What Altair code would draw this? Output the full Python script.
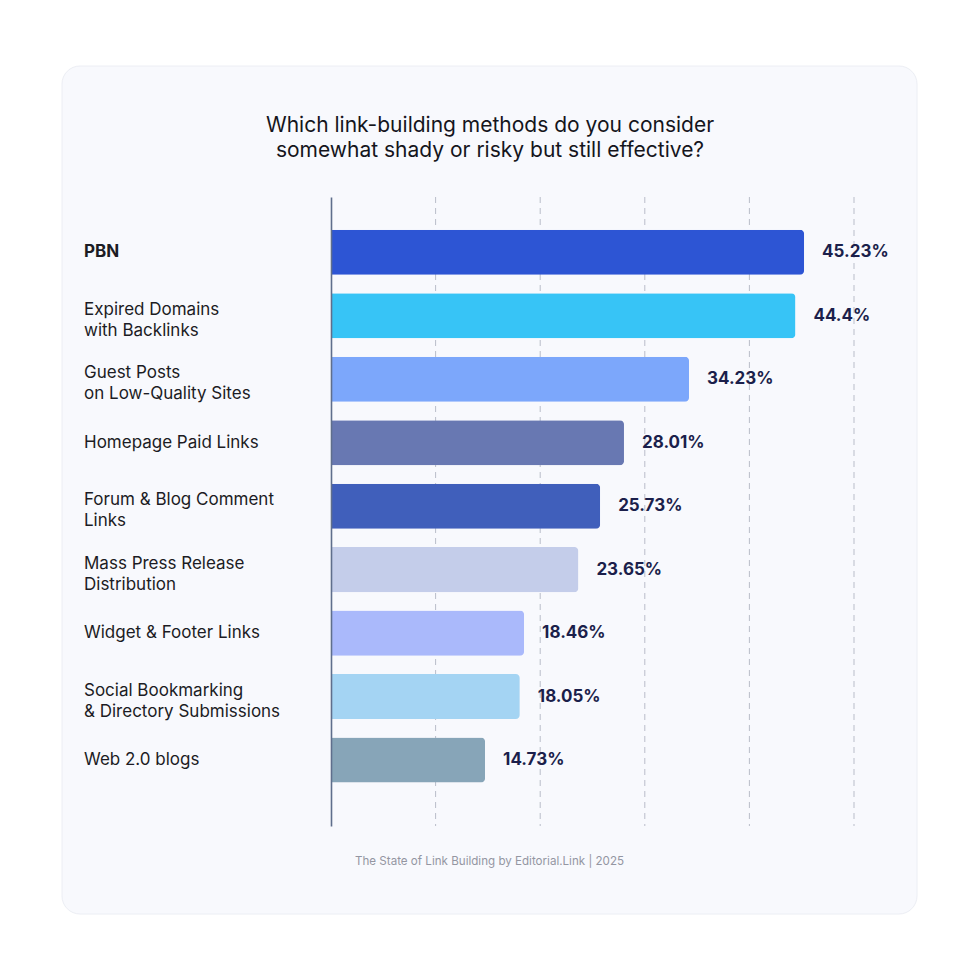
import altair as alt
import pandas as pd

# Survey answers, top to bottom
methods = [
    "PBN",
    "Expired Domains\nwith Backlinks",
    "Guest Posts\non Low-Quality Sites",
    "Homepage Paid Links",
    "Forum & Blog Comment\nLinks",
    "Mass Press Release\nDistribution",
    "Widget & Footer Links",
    "Social Bookmarking\n& Directory Submissions",
    "Web 2.0 blogs",
]
shares = [45.23, 44.4, 34.23, 28.01, 25.73, 23.65, 18.46, 18.05, 14.73]
share_labels = ["45.23%", "44.4%", "34.23%", "28.01%", "25.73%", "23.65%", "18.46%", "18.05%", "14.73%"]
bar_colors = ["#2d55d4", "#37c4f6", "#7ca7fb", "#6878b2", "#405fbb",
              "#c4cdea", "#aab9fb", "#a4d4f3", "#87a5b8"]
grid_ticks = [10, 20, 30, 40, 50]

title_lines = "Which link-building methods do you consider\nsomewhat shady or risky but still effective?"
source_note = "The State of Link Building by Editorial.Link | 2025"

FONT = "Inter"
W, H = 523, 629

df = pd.DataFrame({
    "key": [m.replace("\n", " ") for m in methods],
    "label": methods,
    "share": shares,
    "share_label": share_labels,
    "color": bar_colors,
    "top": [True] + [False] * (len(methods) - 1),
    "multi": ["\n" in m for m in methods],
})
order = list(df["key"])
grid_df = pd.DataFrame({"tick": grid_ticks})

x_scale = alt.Scale(domain=[0, 50], nice=False)
y_scale = alt.Scale(paddingInner=0.29, paddingOuter=0.6, align=0.43)

base = alt.Chart(df)
first_row = base.transform_filter("datum.top")

# rounded card behind everything
card = first_row.mark_rect(
    cornerRadius=18, fill="#f8f9fd", stroke="#eceef4", strokeWidth=1
).encode(
    x=alt.value(-269), x2=alt.value(586), y=alt.value(-131), y2=alt.value(717)
)

# dashed vertical guides every 10 points
grid = alt.Chart(grid_df).mark_rule(
    strokeDash=[6, 5], color="#b9bdc9", strokeWidth=1
).encode(
    x=alt.X("tick:Q", scale=x_scale, axis=None),
    y=alt.value(0), y2=alt.value(H),
)

bars = base.mark_bar(cornerRadiusEnd=4).encode(
    x=alt.X("share:Q", scale=x_scale, axis=None),
    y=alt.Y(
        "key:N", sort=order, scale=y_scale,
        axis=alt.Axis(labels=False, ticks=False, title=None, domain=True,
                      domainColor="#5f6e8c", domainWidth=1.6, grid=False,
                      zindex=1),
    ),
    color=alt.Color("color:N", scale=None),
)

values = base.mark_text(
    align="left", baseline="middle", dx=18, font=FONT, fontSize=17,
    fontWeight="bold", color="#1b1f4b"
).encode(
    x="share:Q", y=alt.Y("key:N", sort=order), text="share_label:N"
)


def category_text(src, weight, dy=0):
    return src.mark_text(
        align="left", baseline="middle", font=FONT, fontSize=17, dy=dy,
        fontWeight=weight, lineBreak="\n", lineHeight=21, color="#1c1c24"
    ).encode(
        x=alt.value(-247),
        y=alt.Y("key:N", sort=order),
        text="label:N",
    )


cat_bold = category_text(first_row, "bold")
cat_single = category_text(base.transform_filter("!datum.top && !datum.multi"), "normal")
cat_multi = category_text(base.transform_filter("datum.multi"), "normal", dy=-6)

heading = first_row.mark_text(
    align="center", baseline="middle", font=FONT, fontSize=21,
    lineBreak="\n", lineHeight=25, color="#15151c", text=title_lines
).encode(x=alt.value(159), y=alt.value(-71))

footer = first_row.mark_text(
    align="left", baseline="middle", font=FONT, fontSize=11.6,
    color="#9496a2", text=source_note
).encode(x=alt.value(24), y=alt.value(665))

chart = alt.layer(
    card, grid, bars, values, cat_bold, cat_single, cat_multi, heading, footer
).properties(
    width=W, height=H,
    padding={"left": 331, "top": 197, "right": 126, "bottom": 154},
    autosize=alt.AutoSizeParams(type="none"),
    background="#ffffff",
).configure_view(stroke=None)

chart.save("out.html", embed_options={"renderer": "svg", "actions": False})
